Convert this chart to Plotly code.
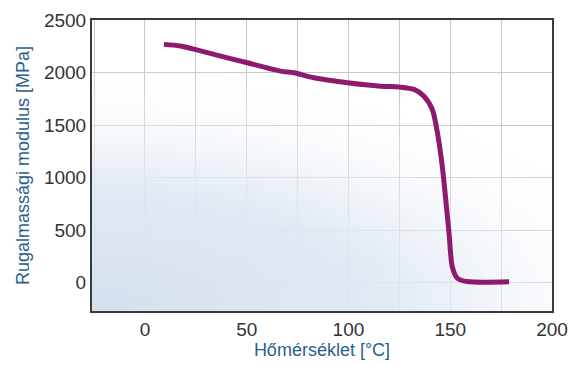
import plotly.graph_objects as go

# Data
temperature_c = [9.3, 17.5, 33.9, 50.3, 66.7, 73.2, 83.0, 99.5, 115.8, 125.0, 132.2,
                 137.1, 141.2, 143.7, 146.1, 147.8, 149.4, 151.0, 153.5, 158.4, 178.9]
modulus_mpa = [2268, 2252, 2173, 2093, 2013, 1998, 1950, 1903, 1870, 1862, 1839,
               1775, 1648, 1428, 1107, 789, 474, 153, 42, 10, 8]

x_range = [-26, 200]
y_range = [-270, 2500]
x_ticks = [0, 50, 100, 150, 200]
y_ticks = [0, 500, 1000, 1500, 2000, 2500]

fig = go.Figure()

# Soft bluish background glow in the lower-left corner
x0, y0 = x_range[0], y_range[0]
W = (x_range[1] - x_range[0]) * 1.3
H = (y_range[1] - y_range[0]) * 0.85
fig.add_trace(go.Scatter(
    x=[x0 - W, x0 + W, x0 + W, x0 - W, x0 - W],
    y=[y0 - H, y0 - H, y0 + H, y0 + H, y0 - H],
    mode="none", fill="toself",
    fillgradient=dict(type="radial",
                      colorscale=[[0, "rgba(212,224,238,1)"],
                                  [0.5, "rgba(222,231,242,0.9)"],
                                  [1, "rgba(255,255,255,0)"]]),
    hoverinfo="skip", showlegend=False,
))

fig.add_trace(go.Scatter(
    x=temperature_c, y=modulus_mpa, mode="lines",
    line=dict(color="#8e1a6d", width=5, shape="spline", smoothing=0.8),
    showlegend=False,
))

axis_font = dict(family="Liberation Sans, Arial, sans-serif", size=19, color="#333333")
title_font = dict(family="Liberation Sans, Arial, sans-serif", size=18, color="#2c5f8c")

fig.update_layout(
    width=569, height=365,
    margin=dict(l=92, r=17, t=20, b=54),
    paper_bgcolor="white", plot_bgcolor="white",
)
fig.update_xaxes(
    range=x_range, tickvals=x_ticks, tickfont=axis_font, automargin=False,
    title=dict(text="Hőmérséklet [°C]", font=title_font, standoff=4),
    showgrid=True, gridcolor="#c9c9c9", gridwidth=1,
    minor=dict(dtick=25, tick0=0, showgrid=True, gridcolor="#c9c9c9", gridwidth=1),
    showline=True, linecolor="#3a3a3a", linewidth=2, mirror=True,
    zeroline=False, ticks="",
)
fig.update_yaxes(
    range=y_range, tickvals=y_ticks, tickfont=axis_font, automargin=False,
    title=dict(text="Rugalmassági modulus [MPa]", font=title_font, standoff=10),
    showgrid=True, gridcolor="#c9c9c9", gridwidth=1,
    showline=True, linecolor="#3a3a3a", linewidth=2, mirror=True,
    zeroline=False, ticks="",
)

# Remove the default page margin and scrollbars so the figure fills the window exactly.
fig.write_html(
    "out.html",
    config={"displayModeBar": False},
    post_script="document.body.style.margin='0';"
                "document.documentElement.style.overflow='hidden';"
                "document.body.style.overflow='hidden';",
)
